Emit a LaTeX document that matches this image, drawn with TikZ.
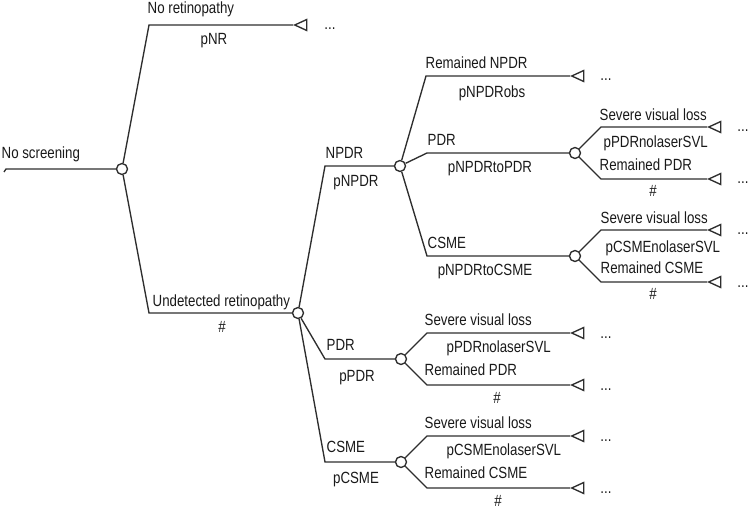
\documentclass[tikz,border=0pt]{standalone}
\usepackage{fontspec}
\setmainfont{Liberation Sans}[FakeStretch=0.82]
\usetikzlibrary{shapes.geometric}
\tikzset{
    chance/.style = {circle, draw, fill=white, minimum size=11pt, inner sep=0pt},
    term/.style = {isosceles triangle, isosceles triangle stretches, shape border rotate=180,
        draw, fill=white, minimum height=12pt, minimum width=11pt, inner sep=0pt, anchor=apex},
    lab/.style = {font=\fontsize{16.2}{18}\selectfont, inner sep=0pt, text=black!90},
    pics/split/.style = {
        code = {%
        \node[chance] (-c) at (0,0) {};
        \coordinate (-up) at (26,-26);
        \coordinate (-dn) at (26,26);
        \node[term] (-tup) at (26+#1,-26) {};
        \node[term] (-tdn) at (26+#1,26) {};
        \draw (-c) -- (-up) -- (-tup.apex);
        \draw (-c) -- (-dn) -- (-tdn.apex);
        \node[lab, anchor=base] (-mup) at (62+#1,-21) {...};
        \node[lab, anchor=base] (-mdn) at (62+#1,31) {...};
        }
    },
}

\begin{document}
\begin{tikzpicture}[x=1pt,y=-1pt,line width=1.35pt,draw=black!82]
\useasboundingbox (0,0) rectangle (753,508);

\coordinate (hook) at (4,172);
\coordinate (start) at (6,169);
\node[chance] (c1) at (122,169) {};
\coordinate (kNR) at (149,25);
\node[term] (tNR) at (293,25) {};
\coordinate (kUR) at (149,313);
\node[chance] (c2) at (298,313) {};

\coordinate (kNPDR) at (325,166);
\node[chance] (c3) at (400,166) {};
\coordinate (kPDR) at (325,359);
\pic (s4) at (401,359) {split=143};
\coordinate (kCSME) at (325,462);
\pic (s5) at (401,462) {split=143};

\coordinate (kRem) at (426,76);
\node[term] (tRem) at (570,76) {};
\coordinate (kPDRb) at (427,153);
\pic (s6) at (575,153) {split=106};
\coordinate (kCSMEb) at (427,256);
\pic (s7) at (575,256) {split=106};

\draw (hook) -- (start) -- (c1);
\draw (c1) -- (kNR) -- (tNR.apex);
\draw (c1) -- (kUR) -- (c2);
\draw (c2) -- (kNPDR) -- (c3);
\draw (c2) -- (kPDR) -- (s4-c);
\draw (c2) -- (kCSME) -- (s5-c);
\draw (c3) -- (kRem) -- (tRem.apex);
\draw (c3) -- (kPDRb) -- (s6-c);
\draw (c3) -- (kCSMEb) -- (s7-c);

\node[lab, anchor=base] (mNR) at (330,30) {...};
\node[lab, anchor=base] (mRem) at (606,81) {...};

\node[lab, anchor=base west] (lNS) at (1,158.5) {No screening};
\node[lab, anchor=base west] (lNR) at (147,13.5) {No retinopathy};
\node[lab, anchor=base] (pNR) at (214,44.5) {pNR};
\node[lab, anchor=base west] (lUR) at (152,306.5) {Undetected retinopathy};
\node[lab, anchor=base] (pUR) at (222,332.5) {\#};

\node[lab, anchor=base west] (lNPDR) at (325,158.5) {NPDR};
\node[lab, anchor=base] (pNPDR) at (356,187) {pNPDR};
\node[lab, anchor=base west] (lPDR) at (326,350.5) {PDR};
\node[lab, anchor=base] (pPDR) at (357,381.5) {pPDR};
\node[lab, anchor=base west] (lCSME) at (326,452.5) {CSME};
\node[lab, anchor=base] (pCSME) at (356,483.5) {pCSME};

\node[lab, anchor=base west] (lRem) at (425,68.5) {Remained NPDR};
\node[lab, anchor=base] (pRem) at (492,97.5) {pNPDRobs};
\node[lab, anchor=base west] (lPDRb) at (427,145.5) {PDR};
\node[lab, anchor=base] (pPDRb) at (490,172.5) {pNPDRtoPDR};
\node[lab, anchor=base west] (lCSMEb) at (427,248.5) {CSME};
\node[lab, anchor=base] (pCSMEb) at (485,275.5) {pNPDRtoCSME};

\node[lab, anchor=base west] (l6u) at (599,120.5) {Severe visual loss};
\node[lab, anchor=base west] (p6u) at (603,147.5) {pPDRnolaserSVL};
\node[lab, anchor=base west] (l6d) at (599,170.5) {Remained PDR};
\node[lab, anchor=base] (p6d) at (653,196.5) {\#};

\node[lab, anchor=base west] (l7u) at (600,223.5) {Severe visual loss};
\node[lab, anchor=base west] (p7u) at (605,252.5) {pCSMEnolaserSVL};
\node[lab, anchor=base west] (l7d) at (600,273.5) {Remained CSME};
\node[lab, anchor=base] (p7d) at (653,299.5) {\#};

\node[lab, anchor=base west] (l4u) at (424,325.5) {Severe visual loss};
\node[lab, anchor=base west] (p4u) at (446,352.5) {pPDRnolaserSVL};
\node[lab, anchor=base west] (l4d) at (424,375.5) {Remained PDR};
\node[lab, anchor=base] (p4d) at (497,403.5) {\#};

\node[lab, anchor=base west] (l5u) at (424,428.5) {Severe visual loss};
\node[lab, anchor=base west] (p5u) at (446,455.5) {pCSMEnolaserSVL};
\node[lab, anchor=base west] (l5d) at (424,478.5) {Remained CSME};
\node[lab, anchor=base] (p5d) at (498,506) {\#};

\end{tikzpicture}
\end{document}
